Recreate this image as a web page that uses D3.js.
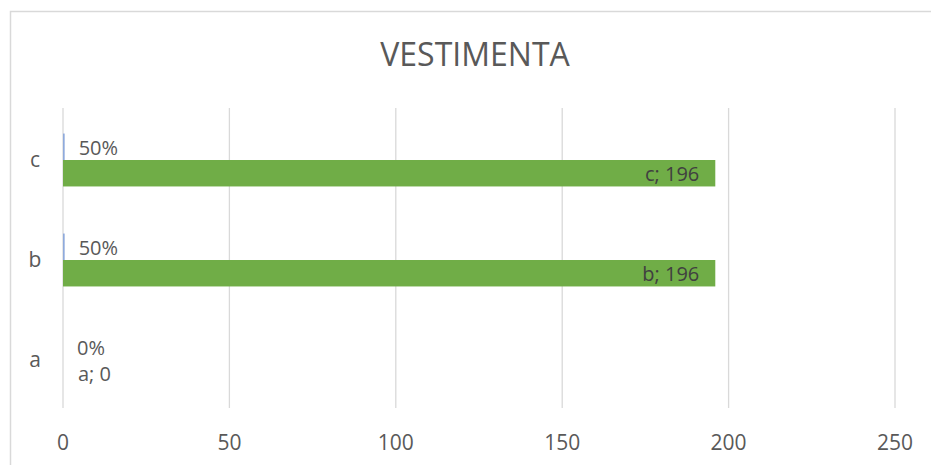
<!DOCTYPE html>
<html>
<head>
<meta charset="utf-8">
<style>
body { margin: 0; background: #fff; }
svg text { font-family: "Open Sans", "Liberation Sans", sans-serif; fill: #595959; }
</style>
<script src="https://d3js.org/d3.v7.min.js"></script>
</head>
<body>
<svg width="931" height="465"></svg>
<script>
// categories, bottom to top
var categories = ["a", "b", "c"];
var shares = [0, 0.5, 0.5];       // first series (percent)
var counts = [0, 196, 196];       // second series
var shareLabels = ["0%", "50%", "50%"];
var xTicks = [0, 50, 100, 150, 200, 250];

var svg = d3.select("svg");

// chart frame
svg.append("rect")
    .attr("x", 10.5).attr("y", 11.5)
    .attr("width", 940).attr("height", 470)
    .attr("fill", "none").attr("stroke", "#d9d9d9").attr("stroke-width", 1.5);

svg.append("text")
    .attr("x", 475).attr("y", 66)
    .attr("text-anchor", "middle")
    .style("font-size", "32px")
    .text("VESTIMENTA");

var x = d3.scaleLinear().domain([0, 250]).range([63, 895]);
var y = d3.scaleBand().domain(categories.slice().reverse()).range([110, 410]);
var inner = d3.scaleBand().domain(["share", "count"]).range([0, y.bandwidth()]).paddingOuter(0.89).paddingInner(0);

// grid
svg.append("g").selectAll("line")
    .data(xTicks)
    .enter().append("line")
    .attr("x1", function(d) { return x(d); })
    .attr("x2", function(d) { return x(d); })
    .attr("y1", 108).attr("y2", 408)
    .attr("stroke", "#d9d9d9").attr("stroke-width", 1.3);

// x labels
svg.append("g").selectAll("text")
    .data(xTicks)
    .enter().append("text")
    .attr("x", function(d) { return x(d); })
    .attr("y", 450)
    .attr("text-anchor", "middle")
    .style("font-size", "21px")
    .text(function(d) { return d; });

// category labels
svg.append("g").selectAll("text")
    .data(categories)
    .enter().append("text")
    .attr("x", 35)
    .attr("y", function(d) { return y(d) + y.bandwidth() / 2 + 7; })
    .attr("text-anchor", "middle")
    .style("font-size", "21px")
    .text(function(d) { return d; });

// share bars (blue, tiny)
svg.append("g").selectAll("rect")
    .data(categories)
    .enter().append("rect")
    .attr("x", x(0))
    .attr("y", function(d) { return y(d) + inner("share"); })
    .attr("width", function(d, i) { return x(shares[i]) - x(0); })
    .attr("height", inner.bandwidth())
    .attr("fill", "#8faadc");

// count bars (green)
svg.append("g").selectAll("rect")
    .data(categories)
    .enter().append("rect")
    .attr("x", x(0))
    .attr("y", function(d) { return y(d) + inner("count"); })
    .attr("width", function(d, i) { return x(counts[i]) - x(0); })
    .attr("height", inner.bandwidth())
    .attr("fill", "#70ad47");

// share labels
svg.append("g").selectAll("text")
    .data(categories)
    .enter().append("text")
    .attr("x", function(d, i) { return x(shares[i]) + 14; })
    .attr("y", function(d) { return y(d) + inner("share") + inner.bandwidth() / 2 + 8; })
    .style("font-size", "20px")
    .text(function(d, i) { return shareLabels[i]; });

// count labels
svg.append("g").selectAll("text")
    .data(categories)
    .enter().append("text")
    .attr("x", function(d, i) { return counts[i] > 0 ? x(counts[i]) - 16 : x(0) + 15; })
    .attr("y", function(d) { return y(d) + inner("count") + inner.bandwidth() / 2 + 8; })
    .attr("text-anchor", function(d, i) { return counts[i] > 0 ? "end" : "start"; })
    .style("font-size", "20px")
    .style("fill", function(d, i) { return counts[i] > 0 ? "#404040" : "#595959"; })
    .text(function(d, i) { return d + "; " + counts[i]; });
</script>
</body>
</html>
